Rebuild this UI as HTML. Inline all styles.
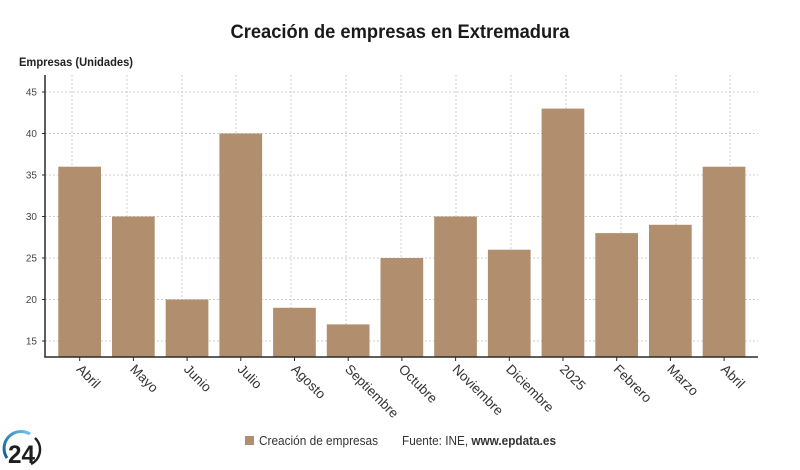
<!DOCTYPE html>
<html>
<head>
<meta charset="utf-8">
<style>
html,body{margin:0;padding:0;background:#fff;}
svg{display:block;}
text{font-family:"Liberation Sans",sans-serif;}
</style>
</head>
<body>
<svg width="800" height="470" viewBox="0 0 800 470" xmlns="http://www.w3.org/2000/svg">
<rect width="800" height="470" fill="#fff"/>
<!-- title -->
<text x="400" y="38" text-anchor="middle" font-size="19" font-weight="bold" fill="#1a1a1a" textLength="339" lengthAdjust="spacingAndGlyphs">Creación de empresas en Extremadura</text>
<!-- y axis title -->
<text x="19" y="66" font-size="12" font-weight="bold" fill="#222" textLength="114" lengthAdjust="spacingAndGlyphs">Empresas (Unidades)</text>

<!-- horizontal grid -->
<g stroke="#cccccc" stroke-width="1" stroke-dasharray="2,2">
<line x1="45" y1="92" x2="758" y2="92"/>
<line x1="45" y1="133.5" x2="758" y2="133.5"/>
<line x1="45" y1="175" x2="758" y2="175"/>
<line x1="45" y1="216.5" x2="758" y2="216.5"/>
<line x1="45" y1="258" x2="758" y2="258"/>
<line x1="45" y1="299.5" x2="758" y2="299.5"/>
<line x1="45" y1="341" x2="758" y2="341"/>
</g>
<!-- vertical grid -->
<g stroke="#cccccc" stroke-width="1" stroke-dasharray="2,2">
<line x1="72" y1="75" x2="72" y2="357"/>
<line x1="127" y1="75" x2="127" y2="357"/>
<line x1="182" y1="75" x2="182" y2="357"/>
<line x1="236" y1="75" x2="236" y2="357"/>
<line x1="291" y1="75" x2="291" y2="357"/>
<line x1="346" y1="75" x2="346" y2="357"/>
<line x1="401" y1="75" x2="401" y2="357"/>
<line x1="456" y1="75" x2="456" y2="357"/>
<line x1="511" y1="75" x2="511" y2="357"/>
<line x1="566" y1="75" x2="566" y2="357"/>
<line x1="621" y1="75" x2="621" y2="357"/>
<line x1="676" y1="75" x2="676" y2="357"/>
<line x1="730" y1="75" x2="730" y2="357"/>
</g>

<!-- bars -->
<g fill="#b08e6e">
<rect x="58.3" y="166.7" width="42.7" height="190.3"/>
<rect x="112" y="216.5" width="42.7" height="140.5"/>
<rect x="165.7" y="299.5" width="42.7" height="57.5"/>
<rect x="219.4" y="133.5" width="42.7" height="223.5"/>
<rect x="273.1" y="307.8" width="42.7" height="49.2"/>
<rect x="326.8" y="324.4" width="42.7" height="32.6"/>
<rect x="380.5" y="258" width="42.7" height="99"/>
<rect x="434.2" y="216.5" width="42.7" height="140.5"/>
<rect x="487.9" y="249.7" width="42.7" height="107.3"/>
<rect x="541.6" y="108.6" width="42.7" height="248.4"/>
<rect x="595.3" y="233.1" width="42.7" height="123.9"/>
<rect x="649" y="224.8" width="42.7" height="132.2"/>
<rect x="702.7" y="166.7" width="42.7" height="190.3"/>
</g>

<!-- axes -->
<line x1="45" y1="75" x2="45" y2="357.5" stroke="#2a2a2a" stroke-width="1.5"/>
<line x1="44.3" y1="357" x2="758" y2="357" stroke="#2a2a2a" stroke-width="1.5"/>

<!-- y ticks -->
<g stroke="#2a2a2a" stroke-width="1">
<line x1="42" y1="92" x2="45" y2="92"/>
<line x1="42" y1="133.5" x2="45" y2="133.5"/>
<line x1="42" y1="175" x2="45" y2="175"/>
<line x1="42" y1="216.5" x2="45" y2="216.5"/>
<line x1="42" y1="258" x2="45" y2="258"/>
<line x1="42" y1="299.5" x2="45" y2="299.5"/>
<line x1="42" y1="341" x2="45" y2="341"/>
</g>
<g font-size="10" fill="#444" text-anchor="end">
<text x="37" y="95.5">45</text>
<text x="37" y="137">40</text>
<text x="37" y="178.5">35</text>
<text x="37" y="220">30</text>
<text x="37" y="261.5">25</text>
<text x="37" y="303">20</text>
<text x="37" y="344.5">15</text>
</g>

<!-- x ticks -->
<g stroke="#2a2a2a" stroke-width="1">
<line x1="79.7" y1="357" x2="79.7" y2="361"/>
<line x1="133.4" y1="357" x2="133.4" y2="361"/>
<line x1="187.1" y1="357" x2="187.1" y2="361"/>
<line x1="240.8" y1="357" x2="240.8" y2="361"/>
<line x1="294.5" y1="357" x2="294.5" y2="361"/>
<line x1="348.2" y1="357" x2="348.2" y2="361"/>
<line x1="401.9" y1="357" x2="401.9" y2="361"/>
<line x1="455.6" y1="357" x2="455.6" y2="361"/>
<line x1="509.3" y1="357" x2="509.3" y2="361"/>
<line x1="563" y1="357" x2="563" y2="361"/>
<line x1="616.7" y1="357" x2="616.7" y2="361"/>
<line x1="670.4" y1="357" x2="670.4" y2="361"/>
<line x1="724.1" y1="357" x2="724.1" y2="361"/>
</g>

<!-- x labels -->
<g font-size="13.5" fill="#333">
<text transform="translate(75.7,370) rotate(45)">Abril</text>
<text transform="translate(129.4,370) rotate(45)">Mayo</text>
<text transform="translate(183.1,370) rotate(45)">Junio</text>
<text transform="translate(236.8,370) rotate(45)">Julio</text>
<text transform="translate(290.5,370) rotate(45)">Agosto</text>
<text transform="translate(344.2,370) rotate(45)">Septiembre</text>
<text transform="translate(397.9,370) rotate(45)">Octubre</text>
<text transform="translate(451.6,370) rotate(45)">Noviembre</text>
<text transform="translate(505.3,370) rotate(45)">Diciembre</text>
<text transform="translate(559,370) rotate(45)">2025</text>
<text transform="translate(612.7,370) rotate(45)">Febrero</text>
<text transform="translate(666.4,370) rotate(45)">Marzo</text>
<text transform="translate(720.1,370) rotate(45)">Abril</text>
</g>

<!-- legend -->
<rect x="245" y="436" width="9" height="9" fill="#b08e6e"/>
<text x="259" y="445" font-size="13" fill="#333" textLength="119" lengthAdjust="spacingAndGlyphs">Creación de empresas</text>
<text x="402" y="445" font-size="13" fill="#333" textLength="154" lengthAdjust="spacingAndGlyphs">Fuente: INE, <tspan font-weight="bold">www.epdata.es</tspan></text>

<!-- logo -->
<defs>
<linearGradient id="lg" x1="0" y1="1" x2="1" y2="0">
<stop offset="0" stop-color="#0d5c8c"/>
<stop offset="1" stop-color="#6cc4ec"/>
</linearGradient>
</defs>
<path d="M7 458 A17 17 0 0 1 30 434" fill="none" stroke="url(#lg)" stroke-width="3"/>
<path d="M35 438 A16 16 0 0 1 31 464" fill="none" stroke="#1e1e1e" stroke-width="2.5"/>
<text x="8" y="463" font-size="25" font-weight="bold" fill="#1e1e1e" textLength="27" lengthAdjust="spacingAndGlyphs">24</text>
</svg>
</body>
</html>
